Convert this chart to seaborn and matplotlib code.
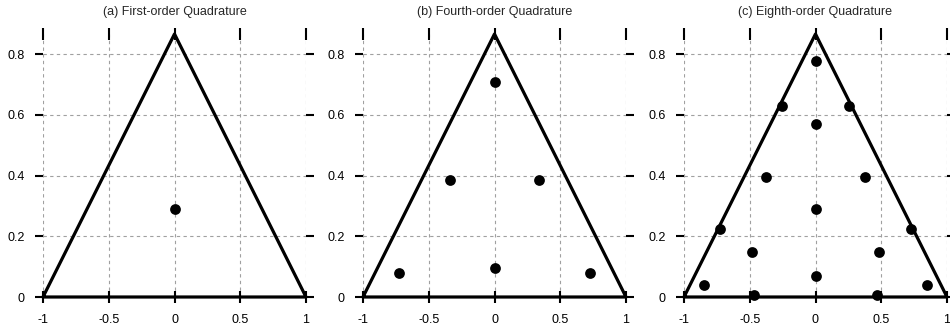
import matplotlib
matplotlib.use("Agg")
import matplotlib.pyplot as plt
import seaborn as sns
import pandas as pd

sns.set_theme(style="white")
plt.rcParams["font.family"] = ["Liberation Sans", "DejaVu Sans"]

# Reference triangle (closed outline)
tri_x = [-1.0, 1.0, 0.0, -1.0]
tri_y = [0.0, 0.0, 0.866, 0.0]

# Quadrature points for each rule
titles = ["(a) First-order Quadrature",
          "(b) Fourth-order Quadrature",
          "(c) Eighth-order Quadrature"]

q1_x = [0.0]
q1_y = [0.289]

q4_x = [0.0, -0.338, 0.338, -0.725, 0.725, 0.0]
q4_y = [0.707, 0.386, 0.386, 0.079, 0.079, 0.094]

q8_x = [0.0, -0.253, 0.253, 0.0, -0.380, 0.380, 0.0, -0.725, 0.725,
        -0.483, 0.483, 0.0, -0.846, 0.846, -0.464, 0.464]
q8_y = [0.778, 0.629, 0.629, 0.569, 0.394, 0.394, 0.289, 0.225, 0.225,
        0.147, 0.147, 0.069, 0.041, 0.041, 0.008, 0.008]

rules = [(q1_x, q1_y), (q4_x, q4_y), (q8_x, q8_y)]

xticks = [-1, -0.5, 0, 0.5, 1]
xtick_labels = ["-1", "-0.5", "0", "0.5", "1"]
yticks = [0, 0.2, 0.4, 0.6, 0.8]
ytick_labels = ["0", "0.2", "0.4", "0.6", "0.8"]

W, H = 950, 326
fig = plt.figure(figsize=(W / 100, H / 100), dpi=100)

lefts = [43, 363, 684]
for i, (left, title, (qx, qy)) in enumerate(zip(lefts, titles, rules)):
    ax = fig.add_axes([left / W, (H - 297) / H, 263 / W, 263 / H])
    ax.set_xlim(-1, 1)
    ax.set_ylim(0, 0.866)
    for s in ax.spines.values():
        s.set_visible(False)
    ax.set_xticks(xticks)
    ax.set_xticklabels(xtick_labels)
    ax.set_yticks(yticks)
    ax.set_yticklabels(ytick_labels)
    ax.grid(True, color="#a0a0a0", linestyle=(0, (3, 3)), linewidth=0.8)
    ax.tick_params(axis="both", which="both", labelsize=9, colors="black",
                   width=1.5)
    ax.tick_params(axis="y", direction="out", length=6, pad=7,
                   left=True, right=True)
    ax.tick_params(axis="x", direction="inout", length=8, pad=8,
                   bottom=True, top=True)

    tri = pd.DataFrame({"x": tri_x, "y": tri_y, "o": range(len(tri_x))})
    sns.lineplot(data=tri, x="x", y="y", sort=False, estimator=None,
                 color="black", linewidth=2.3, ax=ax, clip_on=False)
    pts = pd.DataFrame({"x": qx, "y": qy})
    sns.scatterplot(data=pts, x="x", y="y", color="black", s=60,
                    edgecolor="black", linewidth=0, ax=ax, clip_on=False,
                    zorder=5)
    ax.set_xlabel("")
    ax.set_ylabel("")
    ax.set_title(title, fontsize=9, pad=14)

fig.savefig("out.png", dpi=100)
